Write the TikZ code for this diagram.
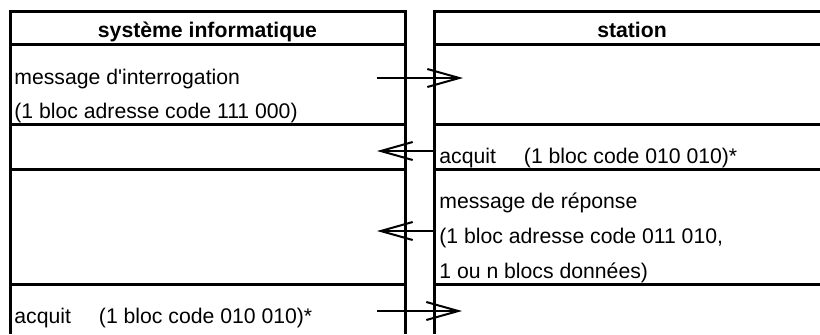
\documentclass[tikz,border=0pt]{standalone}
\usepackage{fontspec}
\setmainfont{Liberation Sans}
\usetikzlibrary{arrows.meta}

\begin{document}
\begin{tikzpicture}[x=0.5pt,y=-0.5pt]
			\tikzstyle{frame} = [line width=1.5pt]
			\tikzstyle{head} = [font=\bfseries\fontsize{10.6}{12}\selectfont, anchor=base, inner sep=0pt]
			\tikzstyle{txt} = [font=\fontsize{10.6}{12}\selectfont, anchor=base west, inner sep=0pt]
			\tikzstyle{msg} = [draw, line width=1pt, -{Straight Barb[length=16pt,width=9pt]}]

			\useasboundingbox (0,0) rectangle (820,334);

			% systeme informatique
			\draw[frame] (10,334) -- (10,11) -- (405,11) -- (405,334);
			\foreach \y in {44,124,169,284} \draw[frame] (10,\y) -- (405,\y);
			% station
			\draw[frame] (434,334) -- (434,11) -- (820,11);
			\foreach \y in {44,124,169,284} \draw[frame] (434,\y) -- (820,\y);

			\node(Systeme)[head] at (207.5,37) {système informatique};
			\node(Station)[head] at (632,37) {station};

			\node(Interrog)[txt] at (14,84) {message d\textquotesingle interrogation};
			\node(InterrogCode)[txt] at (14,118) {(1 bloc adresse code 111 000)};
			\node(AcquitSt)[txt] at (439,163) {acquit\hspace{14pt}(1 bloc code 010 010)*};
			\node(Reponse)[txt] at (439,208) {message de réponse};
			\node(ReponseCode)[txt] at (439,243) {(1 bloc adresse code 011 010,};
			\node(ReponseData)[txt] at (439,278) {1 ou n blocs données)};
			\node(AcquitSys)[txt] at (14,323) {acquit\hspace{14pt}(1 bloc code 010 010)*};

			\coordinate (InterrogOut) at (377,78);
			\coordinate (InterrogIn) at (463,78);
			\coordinate (AcquitStOut) at (434,151);
			\coordinate (AcquitStIn) at (377,151);
			\coordinate (ReponseOut) at (434,231);
			\coordinate (ReponseIn) at (377,231);
			\coordinate (AcquitSysOut) at (377,311);
			\coordinate (AcquitSysIn) at (462,311);

			\draw[msg] (InterrogOut) -- (InterrogIn);
			\draw[msg] (AcquitStOut) -- (AcquitStIn);
			\draw[msg] (ReponseOut) -- (ReponseIn);
			\draw[msg] (AcquitSysOut) -- (AcquitSysIn);

		\end{tikzpicture}
\end{document}
